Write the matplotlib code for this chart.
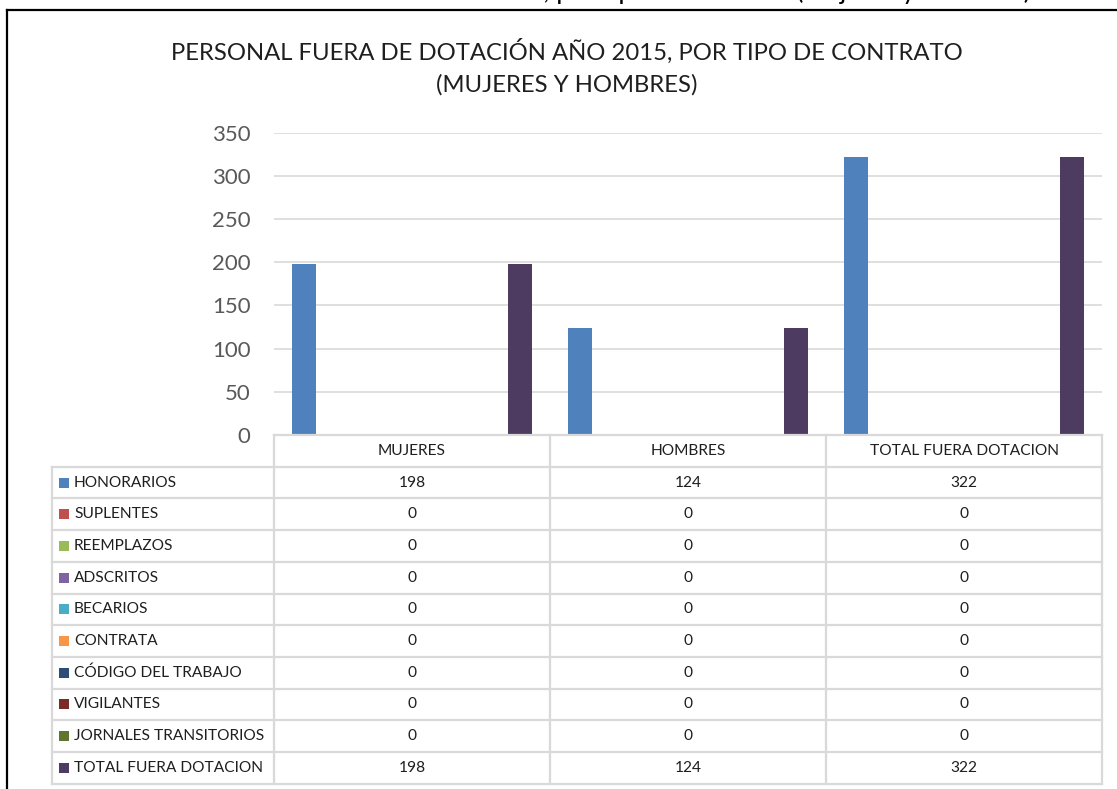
import matplotlib
matplotlib.use("Agg")
import matplotlib.pyplot as plt
from matplotlib.lines import Line2D
import numpy as np

plt.rcParams['font.family'] = ['Lato', 'DejaVu Sans']

categories = ["MUJERES", "HOMBRES", "TOTAL FUERA DOTACION"]
series_names = ["HONORARIOS", "SUPLENTES", "REEMPLAZOS", "ADSCRITOS", "BECARIOS",
                "CONTRATA", "CÓDIGO DEL TRABAJO", "VIGILANTES",
                "JORNALES TRANSITORIOS", "TOTAL FUERA DOTACION"]
honorarios = [198, 124, 322]
suplentes = [0, 0, 0]
reemplazos = [0, 0, 0]
adscritos = [0, 0, 0]
becarios = [0, 0, 0]
contrata = [0, 0, 0]
codigo_trabajo = [0, 0, 0]
vigilantes = [0, 0, 0]
jornales = [0, 0, 0]
total_fuera = [198, 124, 322]
values = [honorarios, suplentes, reemplazos, adscritos, becarios, contrata,
          codigo_trabajo, vigilantes, jornales, total_fuera]
colors = ["#4F81BD", "#C0504D", "#9BBB59", "#8064A2", "#4BACC6", "#F79646",
          "#2C4D75", "#772C2A", "#5F7530", "#4D3B62"]
yticks = [0, 50, 100, 150, 200, 250, 300, 350]
title_lines = ["PERSONAL FUERA DE DOTACIÓN AÑO 2015, POR TIPO DE CONTRATO",
               "(MUJERES Y HOMBRES)"]
cut_caption = "Personal fuera de dotación año 2015, por tipo de contrato (mujeres y hombres)"

W, H = 1117, 789
fig = plt.figure(figsize=(W / 100, H / 100), dpi=100)

def fx(px):
    return px / W

def fy(py):
    return 1 - py / H

# main axes
x0, x1 = 274, 1102
ytop, ybot = 132.7, 435
ax = fig.add_axes([fx(x0), fy(ybot), fx(x1) - fx(x0), (ybot - ytop) / H])
n = len(values)
margin = 0.065
bw = (1 - 2 * margin) / n
g = np.arange(len(categories))
for i, (vals, c) in enumerate(zip(values, colors)):
    ax.bar(g + margin + bw * (i + 0.5), vals, width=bw, color=c, zorder=3)
ax.set_xlim(0, 3)
ax.set_ylim(0, 350)
ax.set_yticks(yticks)
ax.set_yticklabels([str(v) for v in yticks], fontsize=16, color="#595959")
ax.tick_params(axis='y', length=0, pad=17)
ax.set_xticks([])
ax.grid(axis='y', color="#D9D9D9", lw=1.2, zorder=0)
for s in ax.spines.values():
    s.set_visible(False)

# table axes
tl = 52
label_w = (x0 - tl) / ((x1 - x0) / 3)
tbot = 783.7
tax = fig.add_axes([fx(tl), fy(tbot), fx(x1) - fx(tl), (tbot - ybot) / H])
nrows = n + 1
tax.set_xlim(-label_w, 3)
tax.set_ylim(nrows, 0)
tax.axis('off')
lc = "#D9D9D9"
lw = 1.6
tax.plot([0, 3], [0, 0], color=lc, lw=lw, clip_on=False)
for r in range(1, nrows + 1):
    tax.plot([-label_w, 3], [r, r], color=lc, lw=lw, clip_on=False)
for xv in [0, 1, 2, 3]:
    tax.plot([xv, xv], [0, nrows], color=lc, lw=lw, clip_on=False)
tax.plot([-label_w, -label_w], [1, nrows], color=lc, lw=lw, clip_on=False)

tcol = "#1F1F1F"
fs = 11.2
for j, cat in enumerate(categories):
    tax.text(j + 0.5, 0.5, cat, ha='center', va='center', fontsize=fs, color=tcol)
sq_x = -label_w + 12 / 276
txt_x = -label_w + 22 / 276
for i, (name, vals, c) in enumerate(zip(series_names, values, colors)):
    r = i + 1.5
    tax.scatter([sq_x], [r], marker='s', s=52, color=c, clip_on=False, linewidths=0)
    tax.text(txt_x, r, name, ha='left', va='center', fontsize=fs, color=tcol)
    for j, v in enumerate(vals):
        tax.text(j + 0.5, r, str(v), ha='center', va='center', fontsize=fs, color=tcol)

# title
fig.text(fx(567), fy(51), title_lines[0], ha='center', va='center', fontsize=17.2, color="#1F1F1F")
fig.text(fx(567), fy(85), title_lines[1], ha='center', va='center', fontsize=17.2, color="#1F1F1F")

# cut caption above the frame
fig.text(fx(1031), fy(-1), cut_caption, ha='right', va='baseline', fontsize=19, color="black")

# frame
fig.add_artist(Line2D([fx(7), fx(7)], [fy(10), 0], color='black', lw=1.6))
fig.add_artist(Line2D([fx(7), 1], [fy(10), fy(10)], color='black', lw=1.6))

fig.savefig("out.png", dpi=100)
